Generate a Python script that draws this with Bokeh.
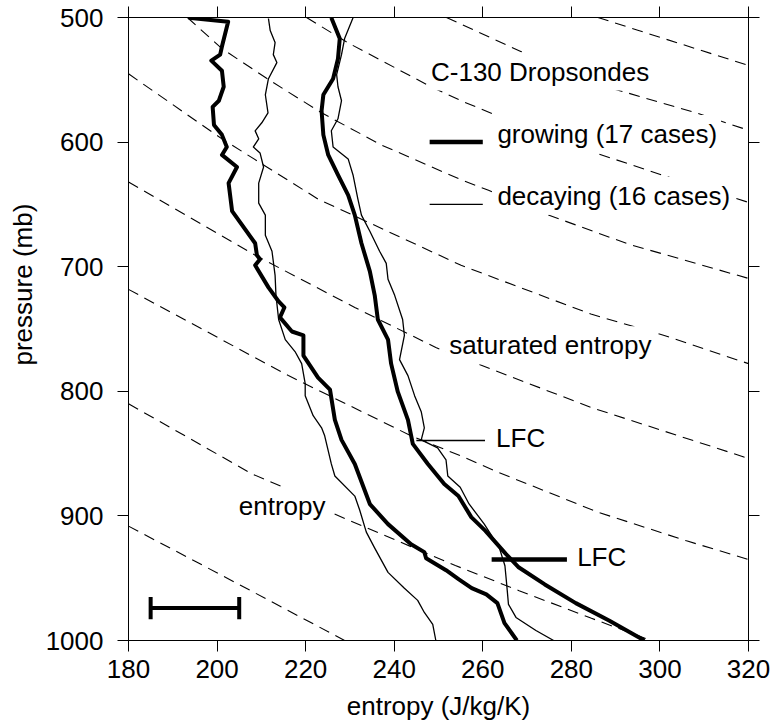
from bokeh.plotting import figure
from bokeh.models import Range1d, FixedTicker, LinearAxis, Label, Title
from bokeh.embed import file_html
from bokeh.resources import INLINE

FONT = "Liberation Sans"

x_ticks = [180, 200, 220, 240, 260, 280, 300, 320]
y_ticks = [500, 600, 700, 800, 900, 1000]

# growing cases: entropy profile (thick, left)
grow_ent_s = [193.6, 202.5, 201.1, 200.7, 198.7, 201.1, 201.5, 200.4, 199.0, 199.3,
              201.1, 202.2, 201.1, 204.5, 202.6, 203.4, 208.6, 209.0, 209.7, 208.6,
              211.6, 213.9, 215.2, 214.2, 216.9, 219.5, 219.5, 222.8, 225.5, 226.6,
              228.1, 231.1, 234.5, 238.6, 243.8, 246.8, 247.2, 251.7, 254.6, 257.5,
              260.8, 263.3, 264.9, 267.7]
grow_ent_p = [500.2, 503.4, 523.3, 529.8, 534.6, 542.7, 555.6, 566.8, 571.7, 586.2,
              594.2, 603.9, 610.3, 620.0, 632.9, 655.4, 681.2, 690.8, 694.0, 698.9,
              716.6, 727.9, 732.7, 740.7, 752.0, 755.2, 771.3, 789.0, 798.7, 822.9,
              839.0, 858.3, 890.5, 906.6, 922.7, 929.1, 934.0, 943.6, 951.0, 958.0,
              963.0, 970.0, 986.0, 1000.0]

# decaying cases: entropy profile (thin, left)
decay_ent_s = [211.6, 212.0, 213.1, 212.7, 213.5, 211.6, 210.9, 211.5, 210.1, 208.6,
               209.4, 208.2, 209.7, 210.5, 209.4, 209.4, 210.9, 210.9, 212.4, 213.1,
               213.3, 213.9, 215.4, 217.6, 219.1, 219.9, 219.9, 221.7, 223.6, 224.3,
               225.8, 226.6, 231.1, 232.2, 233.7, 235.6, 238.6, 242.3, 245.3, 246.8,
               248.7, 249.4]
decay_ent_p = [500.8, 510.5, 520.1, 529.8, 536.2, 549.1, 562.0, 576.5, 584.5, 591.0,
               597.4, 603.9, 608.7, 620.0, 632.9, 649.0, 658.6, 674.7, 687.6, 706.9,
               723.0, 742.4, 758.5, 768.1, 777.8, 793.9, 803.5, 819.6, 829.3, 835.7,
               858.3, 868.0, 884.1, 895.3, 913.0, 925.9, 945.3, 958.1, 967.8, 977.5,
               987.1, 1000.0]

# growing cases: saturated entropy profile (thick, right)
grow_sat_s = [225.8, 227.7, 227.3, 226.2, 224.0, 223.6, 224.0, 225.1, 227.3, 229.6,
              231.1, 232.6, 234.5, 235.6, 236.3, 238.6, 239.3, 240.8, 243.1, 244.2,
              247.6, 251.3, 254.5, 257.4, 260.6, 265.2, 268.0, 274.0, 281.0, 288.5,
              296.5]
grow_sat_p = [500.2, 516.9, 533.0, 549.1, 562.0, 574.9, 594.2, 610.3, 626.4, 642.5,
              658.6, 681.2, 703.7, 723.0, 742.4, 758.5, 777.8, 800.3, 822.9, 842.2,
              858.3, 874.4, 884.0, 901.0, 912.0, 930.5, 941.0, 955.0, 970.0, 984.0,
              1000.0]

# decaying cases: saturated entropy profile (thin, right)
decay_sat_s = [230.7, 228.8, 228.1, 227.0, 227.3, 228.1, 227.3, 225.8, 226.2, 229.6,
               230.7, 231.8, 232.6, 234.5, 236.7, 238.2, 238.6, 240.1, 241.9, 242.3,
               241.2, 243.1, 244.6, 246.1, 246.8, 246.1, 249.8, 251.7, 252.1, 254.9,
               256.9, 260.3, 263.7, 265.0, 265.4, 265.8, 267.5, 272.0, 276.0]
decay_sat_p = [500.2, 516.9, 529.8, 545.9, 555.6, 566.8, 581.3, 590.9, 603.9, 613.5,
               626.4, 645.7, 658.6, 671.5, 687.6, 697.3, 710.1, 723.0, 742.4, 755.2,
               774.6, 787.4, 803.5, 816.4, 829.3, 839.0, 845.4, 855.1, 868.0, 877.0,
               890.4, 906.4, 925.2, 940.0, 955.0, 971.0, 981.5, 992.0, 1000.0]

# dashed reference curves
dash1_s = [286.0, 295.0, 320.0]
dash1_p = [500.0, 510.2, 538.5]
dash2_s = [251.8, 258.1, 269.4, 288.3, 308.5, 320.0]
dash2_p = [500.0, 510.2, 528.7, 556.0, 576.9, 590.5]
dash3_s = [220.2, 229.7, 248.3, 255.1, 264.2, 281.5, 303.1, 320.0]
dash3_p = [500.0, 520.6, 555.6, 566.8, 580.2, 604.0, 629.5, 648.4]
dash4_s = [193.3, 201.1, 212.0, 223.6, 237.1, 254.7, 261.3, 273.2, 293.0, 320.0]
dash4_p = [500.0, 525.0, 550.7, 576.5, 602.3, 629.6, 638.7, 656.4, 682.0, 709.4]
dash5_s = [180.0, 201.1, 222.8, 255.1, 284.4, 300.8, 320.0]
dash5_p = [545.2, 597.4, 645.7, 698.9, 738.0, 755.0, 777.8]
dash6_s = [180.0, 208.6, 231.1, 249.4, 256.7, 284.4, 320.0]
dash6_p = [632.0, 690.8, 732.7, 764.9, 775.1, 812.9, 853.9]
dash7_s = [180.0, 216.1, 243.8, 255.1, 263.5, 286.0, 306.0, 320.0]
dash7_p = [718.2, 787.4, 835.7, 851.9, 865.0, 897.0, 920.0, 935.0]
dash8_s = [180.0, 207.9, 215.4, 226.5, 253.8, 268.2, 284.4, 298.0]
dash8_p = [810.0, 866.3, 877.6, 898.5, 939.8, 960.0, 982.0, 1000.0]
dash9_s = [180.0, 204.9, 228.8]
dash9_p = [908.2, 954.9, 1000.0]

# legend samples and LFC markers
legend_s = [248.0, 260.0]
legend_grow_p = 600.0
legend_decay_p = 650.0
lfc_decay_s = [245.0, 260.5]
lfc_decay_p = 839.5
lfc_grow_s = [262.0, 279.0]
lfc_grow_p = 935.0

# error bar (scale bar)
errbar_s = [185.0, 205.0]
errbar_p = 974.0
errbar_cap = [965.0, 983.0]

p = figure(width=772, height=728,
           x_range=Range1d(180, 320), y_range=Range1d(1000, 500),
           output_backend="svg", toolbar_location=None,
           min_border_left=126, min_border_right=24,
           min_border_top=17, min_border_bottom=88)
p.grid.visible = False
p.outline_line_color = "black"
p.background_fill_color = "white"
p.border_fill_color = "white"

for ax in (p.xaxis[0], p.yaxis[0]):
    ax.major_label_text_font = FONT
    ax.major_label_text_font_size = "26px"
    ax.major_label_text_color = "black"
    ax.axis_label_text_font = FONT
    ax.axis_label_text_font_size = "26px"
    ax.axis_label_text_font_style = "normal"
    ax.axis_label_text_color = "black"
    ax.major_tick_in = 0
    ax.major_tick_out = 11
    ax.minor_tick_line_color = None
    ax.axis_line_color = "black"
    ax.major_tick_line_color = "black"

p.xaxis[0].ticker = FixedTicker(ticks=x_ticks)
p.yaxis[0].ticker = FixedTicker(ticks=y_ticks)
p.xaxis[0].axis_label = "entropy (J/kg/K)"
p.xaxis[0].major_label_standoff = 8
p.yaxis[0].major_label_standoff = 14
p.xaxis[0].axis_label_standoff = 10

top = LinearAxis(ticker=FixedTicker(ticks=x_ticks), major_label_text_color=None,
                 major_tick_in=0, major_tick_out=11, minor_tick_line_color=None,
                 major_label_standoff=0)
right = LinearAxis(ticker=FixedTicker(ticks=y_ticks), major_label_text_color=None,
                   major_tick_in=0, major_tick_out=11, minor_tick_line_color=None,
                   major_label_standoff=0)
p.add_layout(top, "above")
p.add_layout(right, "right")

# y-axis title: a side title so it can sit above the frame's middle, as in the original
p.add_layout(Title(text="pressure (mb)", align="left", offset=275,
                   text_font=FONT, text_font_size="26px", text_font_style="normal",
                   text_color="black", standoff=10), "left")

for ds, dp in [(dash1_s, dash1_p), (dash2_s, dash2_p), (dash3_s, dash3_p),
               (dash4_s, dash4_p), (dash5_s, dash5_p), (dash6_s, dash6_p),
               (dash7_s, dash7_p), (dash8_s, dash8_p), (dash9_s, dash9_p)]:
    p.line(ds, dp, line_color="black", line_width=1.1, line_dash="11 7")

p.line(decay_ent_s, decay_ent_p, line_color="black", line_width=1.3, line_join="round")
p.line(decay_sat_s, decay_sat_p, line_color="black", line_width=1.3, line_join="round")
p.line(grow_ent_s, grow_ent_p, line_color="black", line_width=4, line_join="round")
p.line(grow_sat_s, grow_sat_p, line_color="black", line_width=4, line_join="round")

p.line(legend_s, [legend_grow_p] * 2, line_color="black", line_width=4.5)
p.line(legend_s, [legend_decay_p] * 2, line_color="black", line_width=1.3)
p.line(lfc_decay_s, [lfc_decay_p] * 2, line_color="black", line_width=1.3)
p.line(lfc_grow_s, [lfc_grow_p] * 2, line_color="black", line_width=4.5)

p.line(errbar_s, [errbar_p] * 2, line_color="black", line_width=4)
p.line([errbar_s[0]] * 2, errbar_cap, line_color="black", line_width=4)
p.line([errbar_s[1]] * 2, errbar_cap, line_color="black", line_width=4)

texts = [
    ("C-130 Dropsondes", 247.4, 543.4, "white"),
    ("growing (17 cases)", 262.4, 593.5, "white"),
    ("decaying (16 cases)", 262.4, 643.0, "white"),
    ("saturated entropy", 251.5, 763.0, "white"),
    ("LFC", 262.1, 837.7, None),
    ("LFC", 280.4, 932.9, None),
    ("entropy", 204.0, 892.0, "white"),
]
for t, x, y, bg in texts:
    p.add_layout(Label(x=x, y=y, text=t, text_font=FONT, text_font_size="26px",
                       text_color="black", text_baseline="alphabetic",
                       background_fill_color=bg, padding=4))

open("out.html", "w").write(file_html(p, INLINE))
